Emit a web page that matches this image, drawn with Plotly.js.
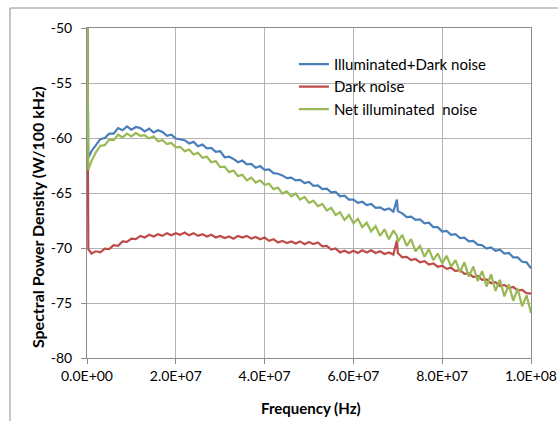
<!DOCTYPE html>
<html>
<head>
<meta charset="utf-8">
<script src="https://cdn.plot.ly/plotly-3.0.1.min.js"></script>
<style>html,body{margin:0;padding:0;background:#fff;}#chart{width:558px;height:421px;}</style>
</head>
<body>
<div id="chart"></div>
<script>
// Frequency in MHz (converted to Hz for plotting)
const freqMHz = [0, 0.3, 1, 2, 3, 4, 5, 6, 7, 8, 9, 10, 11, 12, 13, 14, 15, 16, 17, 18, 19, 20,
  21, 22, 23, 24, 25, 26, 27, 28, 29, 30, 31, 32, 33, 34, 35, 36, 37, 38, 39, 40,
  41, 42, 43, 44, 45, 46, 47, 48, 49, 50, 51, 52, 53, 54, 55, 56, 57, 58, 59, 60,
  61, 62, 63, 64, 65, 66, 67, 68, 69, 69.8, 70, 71, 72, 73, 74, 75, 76, 77, 78, 79, 80,
  81, 82, 83, 84, 85, 86, 87, 88, 89, 90, 91, 92, 93, 94, 95, 96, 97, 98, 99, 100];

const illumDark = [-45, -61.8, -61.2, -60.7, -60.1, -60.0, -59.6, -59.6, -59.1, -59.3, -58.95, -59.25, -59.0, -59.1, -59.4, -59.15, -59.5, -59.3, -59.45, -59.8, -59.7, -60.05,
  -60.1, -60.2, -60.5, -60.35, -60.75, -60.6, -60.95, -60.9, -61.25, -61.2, -61.75, -61.7, -61.9, -62.2, -62.05, -62.4, -62.35, -62.7, -62.55, -62.9,
  -62.85, -63.2, -63.25, -63.4, -63.65, -63.6, -63.85, -63.8, -64.1, -64.0, -64.35, -64.3, -64.65, -64.6, -64.95, -64.9, -65.3, -65.25, -65.6, -65.6,
  -65.9, -65.8, -66.1, -66.0, -66.35, -66.3, -66.55, -66.4, -66.7, -65.6, -66.65, -66.85, -67.2, -67.15, -67.45, -67.4, -67.75, -67.7, -68.1, -68.1, -68.5,
  -68.45, -68.8, -68.75, -69.1, -69.05, -69.4, -69.35, -69.7, -69.75, -70.05, -69.95, -70.25, -70.15, -70.5, -70.45, -70.85, -70.85, -71.25, -71.3, -71.85];

const darkNoise = [-45, -70.1, -70.5, -70.3, -70.4, -70.05, -70.1, -69.75, -69.8, -69.4, -69.45, -69.15, -69.2, -68.9, -69.05, -68.8, -68.95, -68.75, -68.9, -68.65, -68.85, -68.65,
  -68.8, -68.6, -68.85, -68.65, -68.9, -68.75, -68.95, -68.8, -69.05, -68.9, -69.1, -68.95, -69.15, -68.9, -69.05, -68.9, -69.15, -69.0, -69.2, -69.05,
  -69.35, -69.2, -69.5, -69.35, -69.55, -69.4, -69.6, -69.4, -69.65, -69.45, -69.65, -69.5, -69.85, -69.8, -70.15, -70.05, -70.4, -70.25, -70.45, -70.25,
  -70.45, -70.2, -70.4, -70.2, -70.45, -70.3, -70.55, -70.4, -70.6, -69.3, -70.45, -70.85, -70.8, -71.1, -71.0, -71.3, -71.2, -71.5, -71.4, -71.7, -71.6,
  -71.9, -71.8, -72.1, -72.0, -72.35, -72.3, -72.65, -72.55, -72.9, -72.85, -73.2, -73.1, -73.45, -73.35, -73.65, -73.55, -73.85, -73.8, -74.1, -74.15];

const netIllum = [-45, -62.9, -62.1, -61.3, -60.7, -60.65, -60.15, -60.2, -59.7, -59.95, -59.6, -59.85, -59.55, -59.8, -59.75, -60.05, -59.85, -60.3, -60.2, -60.55, -60.45, -60.85,
  -60.8, -61.2, -61.05, -61.5, -61.35, -61.8, -61.7, -62.2, -62.1, -62.65, -62.6, -63.1, -62.95, -63.45, -63.35, -63.85, -63.6, -64.05, -63.85, -64.25,
  -64.15, -64.65, -64.5, -65.05, -64.85, -65.3, -65.05, -65.6, -65.35, -65.9, -65.7, -66.2, -66.0, -66.6, -66.35, -67.0, -66.75, -67.45, -67.0, -67.75,
  -67.35, -68.1, -67.7, -68.5, -68.0, -68.9, -68.3, -69.2, -68.4, -68.9, -69.45, -68.8, -69.8, -69.2, -70.3, -69.8, -70.8, -70.1, -71.1, -70.5, -71.4,
  -70.7, -71.7, -71.1, -72.2, -71.3, -72.6, -71.7, -73.0, -72.1, -73.5, -72.4, -73.9, -72.9, -74.4, -73.3, -74.8, -73.7, -75.3, -74.3, -75.9];

const seriesNames = ['Illuminated+Dark noise', 'Dark noise', 'Net illuminated  noise'];
const seriesColors = ['#4A7EBB', '#BE4B48', '#98B954'];

const xTickVals = [0, 2e7, 4e7, 6e7, 8e7, 1e8];
const xTickText = ['0.0E+00', '2.0E+07', '4.0E+07', '6.0E+07', '8.0E+07', '1.0E+08'];
const yTickVals = [-80, -75, -70, -65, -60, -55, -50];
const yTickText = ['-80', '-75', '-70', '-65', '-60', '-55', '-50'];

const freqHz = freqMHz.map(f => f * 1e6);
const allY = [illumDark, darkNoise, netIllum];

const traces = allY.map((ys, i) => ({
  x: freqHz, y: ys, type: 'scatter', mode: 'lines', name: seriesNames[i],
  line: {color: seriesColors[i], width: 2.2}
}));

const font = 'Lato, "Open Sans", sans-serif';
const layout = {
  width: 558, height: 421,
  margin: {l: 87, r: 27, t: 28, b: 63},
  paper_bgcolor: '#ffffff', plot_bgcolor: '#ffffff',
  font: {family: font, size: 14, color: '#000'},
  showlegend: true,
  legend: {x: 0.466, y: 0.94, xanchor: 'left', yanchor: 'top', bgcolor: 'rgba(0,0,0,0)',
           font: {family: font, size: 15, color: '#000'}, tracegroupgap: 0},
  xaxis: {range: [0, 1e8], tickvals: xTickVals, ticktext: xTickText, showgrid: true,
          gridcolor: '#B3B3B3', gridwidth: 1, showline: true, linecolor: '#8C8C8C', linewidth: 1,
          mirror: true, ticks: 'outside', ticklen: 5, tickcolor: '#8C8C8C', zeroline: false,
          tickfont: {family: font, size: 14}},
  yaxis: {range: [-80, -50], tickvals: yTickVals, ticktext: yTickText, showgrid: true,
          gridcolor: '#B3B3B3', gridwidth: 1, showline: true, linecolor: '#8C8C8C', linewidth: 1,
          mirror: true, ticks: 'outside', ticklen: 5, tickcolor: '#8C8C8C', zeroline: false,
          ticklabelstandoff: 6, tickfont: {family: font, size: 14}},
  annotations: [
    {text: '<b>Spectral Power Density (W/100 kHz)</b>', xref: 'paper', yref: 'paper',
     x: -0.1126, y: 0.427, xanchor: 'center', yanchor: 'middle', textangle: -90,
     showarrow: false, font: {family: font, size: 16}},
    {text: '<b>Frequency (Hz)</b>', xref: 'paper', yref: 'paper',
     x: 0.5045, y: -0.1515, xanchor: 'center', yanchor: 'middle',
     showarrow: false, font: {family: font, size: 15}}
  ],
  shapes: [
    {type: 'line', xref: 'paper', yref: 'paper', x0: -0.1734, x1: -0.1734, y0: -0.3, y1: 1.0606,
     line: {color: '#8C8C8C', width: 1}},
    {type: 'line', xref: 'paper', yref: 'paper', x0: -0.1734, x1: 1.2, y0: 1.0606, y1: 1.0606,
     line: {color: '#8C8C8C', width: 1}}
  ]
};

Plotly.newPlot('chart', traces, layout, {displayModeBar: false, staticPlot: true});
</script>
</body>
</html>
